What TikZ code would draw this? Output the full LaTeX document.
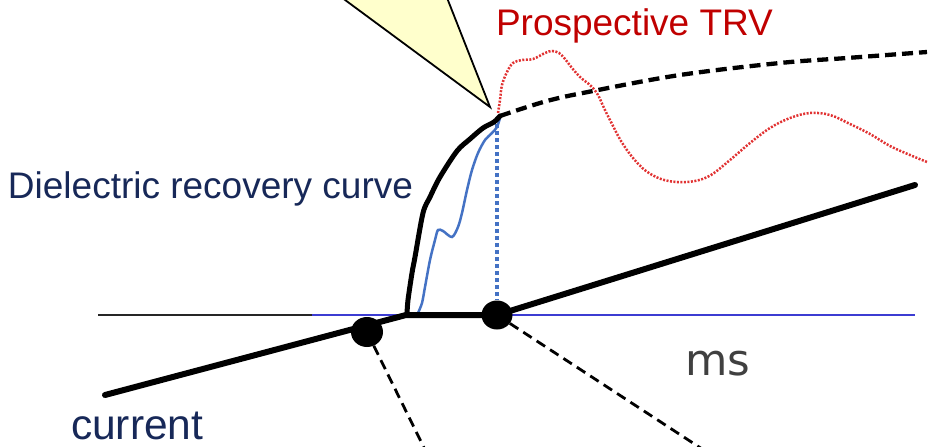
\documentclass[tikz,border=0pt]{standalone}
\usepackage{fontspec}
\setmainfont{Liberation Sans}
\newfontfamily\msfont{DejaVu Sans}
\usetikzlibrary{shapes.geometric,arrows.meta}
\definecolor{navy}{RGB}{23,40,88}
\definecolor{trvred}{RGB}{192,0,0}
\definecolor{dotred}{RGB}{225,50,50}
\definecolor{cblue}{RGB}{68,114,196}
\definecolor{axblue}{RGB}{60,60,210}
\definecolor{callout}{RGB}{255,255,204}
\tikzset{
  lbl/.style={anchor=base west, inner sep=0pt, outer sep=0pt},
  zerodot/.style={ellipse, fill=black, inner sep=0pt, minimum width=32pt, minimum height=30pt},
  thickblack/.style={line width=6pt, black, line cap=round, line join=round},
  dashconn/.style={line width=2.8pt, black, dash pattern=on 10pt off 6pt, -{Triangle[length=14pt,width=14pt,open]}},
}
\begin{document}
\begin{tikzpicture}[x=1pt,y=-1pt]
\useasboundingbox (0,0) rectangle (935,447);
\clip (0,0) rectangle (935,447);
% callout triangle
\filldraw[fill=callout, draw=black, line width=1.8pt, line join=miter] (318,-20) -- (490,107) -- (440,-20) -- cycle;
% axis
\draw[line width=2.3pt, black!85] (98,315) -- (312,315);
\draw[line width=2.3pt, axblue] (312,315) -- (915,315);
% red prospective TRV
\draw[dotred, line width=2.5pt, dash pattern=on 2pt off 1.5pt] plot[smooth, tension=0.6] coordinates {
 (498,113) (500,100) (502,85) (507,72) (513,63) (522,60) (533,59) (545,53) (552,51) (559,53) (565,59) (572,68) (580,77) (591,86) (598,95) (604,108) (611,122) (621,141) (633,158) (646,171) (661,179) (677,182) (695,181) (711,175) (730,160) (750,143) (770,128) (790,118) (810,113) (830,115) (850,124) (870,134) (890,146) (910,155) (927,162)};
% blue actual voltage
\draw[cblue, line width=2.5pt] plot[smooth, tension=0.5] coordinates {
 (418,313) (422,303) (425,287) (430,260) (435,240) (438,230) (443,231) (452,237) (458,227) (462,213) (467,190) (472,170) (478,153) (485,140) (492,133) (497,127) (500,118)};
% blue dotted vertical
\draw[cblue, line width=3.5pt, dash pattern=on 3.5pt off 3.5pt] (497,124) -- (497,300);
% dielectric recovery curve
\draw[thickblack, line width=5pt] plot[smooth, tension=0.5] coordinates {
 (407,314) (408,300) (412,273) (415,257) (423,213) (430,197) (440,177) (457,151) (470,139) (483,128) (494,122) (500,116)};
\draw[black, line width=4.3pt, dash pattern=on 11pt off 6pt] plot[smooth, tension=0.6] coordinates {
 (500,116) (547,101) (593,91) (680,75) (780,63) (847,58) (927,52)};
% current
\draw[thickblack] (105,395) -- (406,315) -- (497,315) -- (915,185);
% current zeros
\node[zerodot] (z1) at (367,332) {};
\node[zerodot, minimum width=31pt, minimum height=29pt] (z2) at (497,315) {};
\coordinate (e1) at (434,468);
\coordinate (e2) at (722,462);
\draw[dashconn] (z1) -- (e1);
\draw[dashconn] (z2) -- (e2);
% labels
\node[lbl, text=trvred, font=\fontsize{37}{41}\selectfont] (ptrv) at (496,35) {Prospective TRV};
\node[lbl, text=navy, font=\fontsize{37}{41}\selectfont] (drc) at (8,198) {Dielectric recovery curve};
\node[lbl, text=navy, font=\fontsize{42.5}{46}\selectfont] (cur) at (71,439) {current};
\node[lbl, text=black!75, font=\msfont\fontsize{43.5}{47}\selectfont] (ms) at (685,375) {ms};
\end{tikzpicture}
\end{document}
